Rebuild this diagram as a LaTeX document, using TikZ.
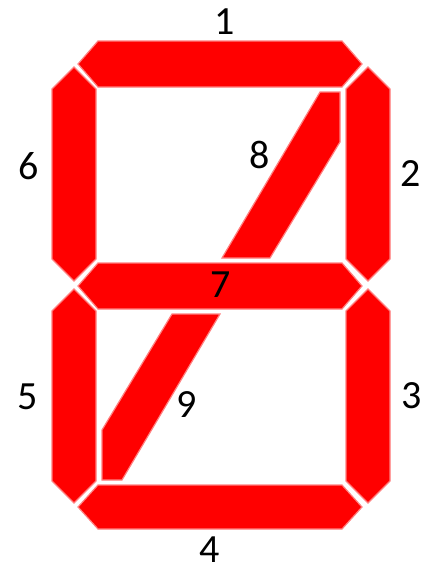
\documentclass[tikz,border=0pt]{standalone}
\usepackage{fontspec}
\setmainfont{Carlito}
\tikzset{
  seg/.style={fill=red, draw=red!50, line width=1.2pt, line join=miter},
  lbl/.style={inner sep=0pt, text=black, font=\fontsize{40}{40}\selectfont}
}
\begin{document}
\begin{tikzpicture}[x=1pt,y=-1pt]
\useasboundingbox[fill=white] (0,0) rectangle (435,568);
% horizontal segments
\path[seg] (78,64) -- (98,41) -- (342,41) -- (362,64) -- (342,87) -- (98,87) -- cycle;   % 1
\path[seg] (78,286) -- (98,263) -- (342,263) -- (362,286) -- (342,309) -- (98,309) -- cycle; % 7
\path[seg] (78,507) -- (98,485) -- (342,485) -- (362,507) -- (342,529) -- (98,529) -- cycle; % 4
% vertical segments
\path[seg] (74,67) -- (96,89) -- (96,259) -- (74,281) -- (52,259) -- (52,89) -- cycle;   % 6
\path[seg] (74,289) -- (96,311) -- (96,481) -- (74,503) -- (52,481) -- (52,311) -- cycle; % 5
\path[seg] (368,67) -- (390,89) -- (390,259) -- (368,281) -- (346,259) -- (346,89) -- cycle; % 2
\path[seg] (368,289) -- (390,311) -- (390,481) -- (368,503) -- (346,481) -- (346,311) -- cycle; % 3
% diagonal segments
\path[seg] (320,92) -- (340,92) -- (340,142) -- (270,258) -- (222,258) -- cycle; % 8
\path[seg] (122,480) -- (102,480) -- (102,430) -- (172,314) -- (220,314) -- cycle; % 9
% labels
\node[lbl] (l1) at (225,21.5) {1};
\node[lbl] (l2) at (411,174) {2};
\node[lbl] (l3) at (412,396) {3};
\node[lbl] (l4) at (210,550) {4};
\node[lbl] (l5) at (28,397) {5};
\node[lbl] (l6) at (28.5,166) {6};
\node[lbl] (l7) at (221,285) {7};
\node[lbl] (l8) at (260,154.5) {8};
\node[lbl] (l9) at (187,405) {9};
\end{tikzpicture}
\end{document}
